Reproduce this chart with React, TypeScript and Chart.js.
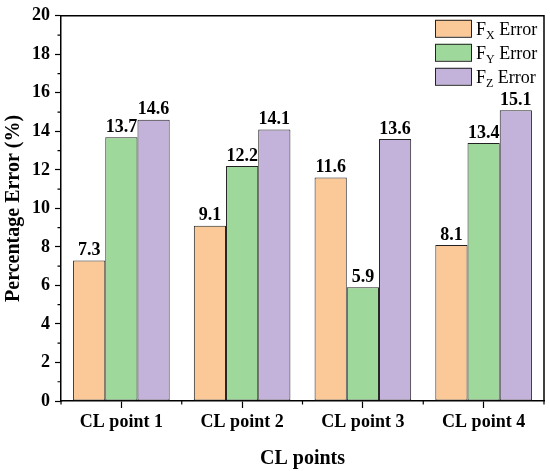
import React, { useEffect, useRef } from "react";
import { Chart, registerables } from "chart.js";

Chart.register(...registerables);

// data
const categories = ["CL point 1", "CL point 2", "CL point 3", "CL point 4"];
const fxError = [7.3, 9.1, 11.6, 8.1];
const fyError = [13.7, 12.2, 5.9, 13.4];
const fzError = [14.6, 14.1, 13.6, 15.1];
const seriesNames = ["X", "Y", "Z"]; // subscripts of F
const yTicks = [0, 2, 4, 6, 8, 10, 12, 14, 16, 18, 20];

const FONT = "'Liberation Serif', 'Times New Roman', serif";
const colors = ["#FBC998", "#9ED99B", "#C3B2DA"];
const edge = "#222222";

// minor ticks, plot frame, value labels and the legend
const decorPlugin = {
  id: "decor",
  afterDatasetsDraw(chart: any) {
    const ctx = chart.ctx;
    ctx.save();
    ctx.fillStyle = "#000";
    ctx.font = `bold 18px ${FONT}`;
    ctx.textAlign = "center";
    ctx.textBaseline = "bottom";
    chart.data.datasets.forEach((ds: any, i: number) => {
      const meta = chart.getDatasetMeta(i);
      meta.data.forEach((el: any, j: number) => {
        ctx.fillText(ds.data[j].toFixed(1), el.x, el.y - 1);
      });
    });
    ctx.restore();
  },
  afterDraw(chart: any) {
    const ctx = chart.ctx;
    const { left, right, top, bottom } = chart.chartArea;
    const x = chart.scales.x;
    const y = chart.scales.y;
    ctx.save();
    ctx.strokeStyle = "#000";
    ctx.lineWidth = 1.5;
    ctx.beginPath();
    ctx.moveTo(left, top);
    ctx.lineTo(right, top);
    ctx.lineTo(right, bottom);
    ctx.stroke();
    ctx.lineWidth = 1.2;
    ctx.beginPath();
    for (let v = 1; v < 20; v += 2) {
      const py = y.getPixelForValue(v);
      ctx.moveTo(left - 3.5, py);
      ctx.lineTo(left, py);
    }
    for (let i = 0; i <= categories.length; i++) {
      const px = x.getPixelForValue(i - 0.5);
      ctx.moveTo(px, bottom);
      ctx.lineTo(px, bottom + 3.5);
    }
    ctx.stroke();
    ctx.restore();

    ctx.save();
    const bx = right - 109;
    chart.data.datasets.forEach((ds: any, i: number) => {
      const by = top + 4 + i * 24;
      ctx.fillStyle = ds.backgroundColor;
      ctx.fillRect(bx, by, 36, 17);
      ctx.strokeStyle = edge;
      ctx.lineWidth = 1;
      ctx.strokeRect(bx + 0.5, by + 0.5, 36, 17);
      ctx.fillStyle = "#000";
      ctx.textBaseline = "alphabetic";
      ctx.textAlign = "left";
      const base = by + 15;
      let tx = bx + 41;
      ctx.font = `18px ${FONT}`;
      ctx.fillText("F", tx, base);
      tx += ctx.measureText("F").width;
      ctx.font = `12px ${FONT}`;
      ctx.fillText(seriesNames[i], tx, base + 4);
      tx += ctx.measureText(seriesNames[i]).width;
      ctx.font = `18px ${FONT}`;
      ctx.fillText(" Error", tx, base);
    });
    ctx.restore();
  },
};

export default function App() {
  const canvasRef = useRef<HTMLCanvasElement | null>(null);
  const chartRef = useRef<Chart | null>(null);

  useEffect(() => {
    if (!canvasRef.current) return;
    const dataSets = [fxError, fyError, fzError];
    chartRef.current = new Chart(canvasRef.current, {
      type: "bar",
      data: {
        labels: categories,
        datasets: dataSets.map((d, i) => ({
          label: `F${seriesNames[i]} Error`,
          data: d,
          backgroundColor: colors[i],
          borderColor: edge,
          borderWidth: 1,
          borderSkipped: false,
          categoryPercentage: 0.8,
          barPercentage: 1,
        })),
      },
      options: {
        responsive: false,
        animation: false,
        layout: { padding: { top: 13, right: 6, left: 0, bottom: 0 } },
        plugins: {
          legend: { display: false },
          tooltip: { enabled: false },
        },
        scales: {
          x: {
            grid: {
              offset: false,
              drawOnChartArea: false,
              tickLength: 7,
              color: "#000",
              tickWidth: 1.2,
            },
            border: { color: "#000", width: 1.5 },
            ticks: {
              color: "#000",
              font: { family: FONT, size: 18, weight: "bold" },
              padding: 4,
            },
            title: {
              display: true,
              text: "CL points",
              color: "#000",
              font: { family: FONT, size: 20, weight: "bold" },
              padding: { top: 6, bottom: 0 },
            },
            afterFit(scale: any) {
              scale.height = 70;
            },
          },
          y: {
            min: 0,
            max: 20,
            afterBuildTicks(scale: any) {
              scale.ticks = yTicks.map((v) => ({ value: v }));
            },
            grid: {
              drawOnChartArea: false,
              tickLength: 6,
              color: "#000",
              tickWidth: 1.2,
            },
            border: { color: "#000", width: 1.5 },
            ticks: {
              color: "#000",
              font: { family: FONT, size: 18, weight: "bold" },
              padding: 5,
            },
            title: {
              display: true,
              text: "Percentage Error (%)",
              color: "#000",
              font: { family: FONT, size: 20, weight: "bold" },
              padding: { top: 2, bottom: 4 },
            },
            afterFit(scale: any) {
              scale.width = 61;
            },
          },
        },
      },
      plugins: [decorPlugin],
    });
    return () => {
      chartRef.current?.destroy();
      chartRef.current = null;
    };
  }, []);

  return (
    <div style={{ position: "fixed", left: 0, top: 0, width: 550, height: 471, background: "#fff" }}>
      <canvas ref={canvasRef} width={550} height={471} />
    </div>
  );
}
